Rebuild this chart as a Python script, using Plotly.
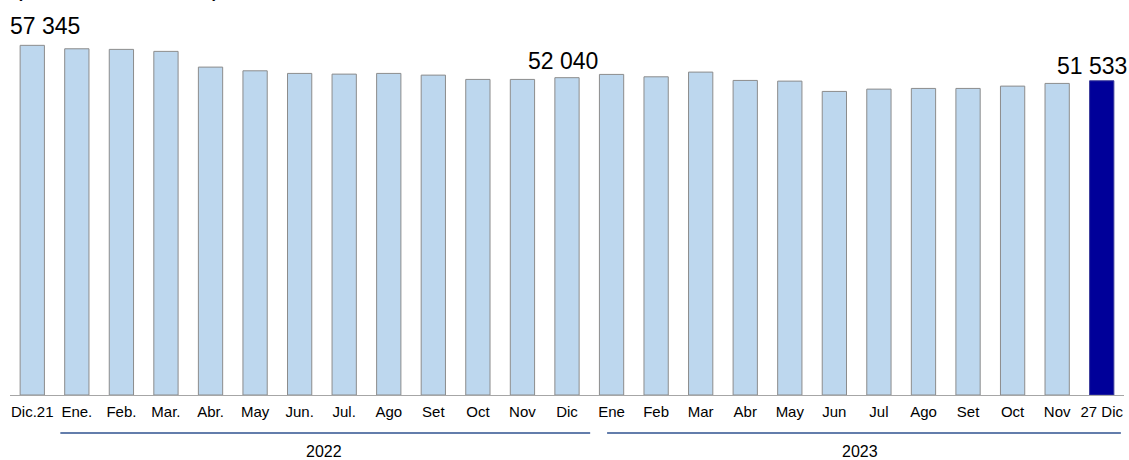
import plotly.graph_objects as go

# ---- data ----
labels = ["Dic.21", "Ene.", "Feb.", "Mar.", "Abr.", "May", "Jun.", "Jul.", "Ago", "Set", "Oct", "Nov", "Dic",
          "Ene", "Feb", "Mar", "Abr", "May", "Jun", "Jul", "Ago", "Set", "Oct", "Nov", "27 Dic"]
values = [57345, 56780, 56682, 56354, 53776, 53168, 52741, 52626, 52741, 52462, 51756, 51756, 52040,
          52577, 52183, 52955, 51590, 51477, 49785, 50164, 50278, 50278, 50656, 51099, 51533]
years = ["2022", "2023"]
year_spans = [(0.63, 12.52), (12.9, 24.43)]
year_label_pos = [6.55, 18.57]
highlight = [0, 12, 24]
highlight_text = ["57 345", "52 040", "51 533"]
highlight_xshift = [13, -4, -10]
highlight_yshift = [4, 2, 0]
title_text = "(Millones de US$)"

FONT = "Arial, Liberation Sans, sans-serif"
LIGHT = "#BDD7EE"
DARK = "#000099"

x = list(range(len(labels)))
colors = [LIGHT] * (len(values) - 1) + [DARK]
line_colors = ["#8C8C8C"] * (len(values) - 1) + ["#3A3A9A"]

fig = go.Figure()
fig.add_trace(go.Bar(
    x=x, y=values,
    marker=dict(color=colors, line=dict(color=line_colors, width=1)),
    width=0.545,
    hoverinfo="x+y",
))

W, H = 1129, 460
mt, mb, ml, mr = 20, 65, 10, 5
plot_h = H - mt - mb

fig.update_layout(
    width=W, height=H,
    margin=dict(l=ml, r=mr, t=mt, b=mb, pad=0),
    paper_bgcolor="white", plot_bgcolor="white",
    showlegend=False,
    font=dict(family=FONT, color="black"),
    xaxis=dict(
        range=[-0.5, len(labels) - 0.5],
        tickmode="array", tickvals=x, ticktext=labels,
        tickfont=dict(size=15, family=FONT, color="black"),
        showline=True, linecolor="#A6A6A6", linewidth=1,
        showgrid=False, zeroline=False, ticks="",
        ticklabelstandoff=3,
        fixedrange=True,
    ),
    yaxis=dict(
        range=[0, 61500], visible=False, showgrid=False, zeroline=False, fixedrange=True,
    ),
)

annotations = []
for idx, txt, xs, ys in zip(highlight, highlight_text, highlight_xshift, highlight_yshift):
    annotations.append(dict(
        x=idx, y=values[idx], xref="x", yref="y", text=txt, showarrow=False,
        xanchor="center", yanchor="bottom", xshift=xs, yshift=ys,
        font=dict(size=23, family=FONT, color="black"),
    ))

shapes = []
line_y = -(433 - (H - mb)) / plot_h
label_y = -(452 - (H - mb)) / plot_h
for yr, (a, b), pos in zip(years, year_spans, year_label_pos):
    shapes.append(dict(type="line", xref="x", yref="paper", x0=a, x1=b, y0=line_y, y1=line_y,
                       line=dict(color="#2F528F", width=1.3)))
    annotations.append(dict(x=pos, y=label_y, xref="x", yref="paper", text=yr, showarrow=False,
                            xanchor="center", yanchor="middle",
                            font=dict(size=16, family=FONT, color="black")))

# partially visible title at the very top (cut off as in the reference)
annotations.append(dict(x=0, y=1 + (mt + 13) / plot_h, xref="paper", yref="paper", text=title_text,
                        showarrow=False, xanchor="left", yanchor="middle", xshift=2,
                        font=dict(size=26, family=FONT, color="black")))

fig.update_layout(annotations=annotations, shapes=shapes)
fig.write_html("out.html", config={"displayModeBar": False},
               post_script="document.body.style.margin='0';document.body.style.overflow='hidden';")
